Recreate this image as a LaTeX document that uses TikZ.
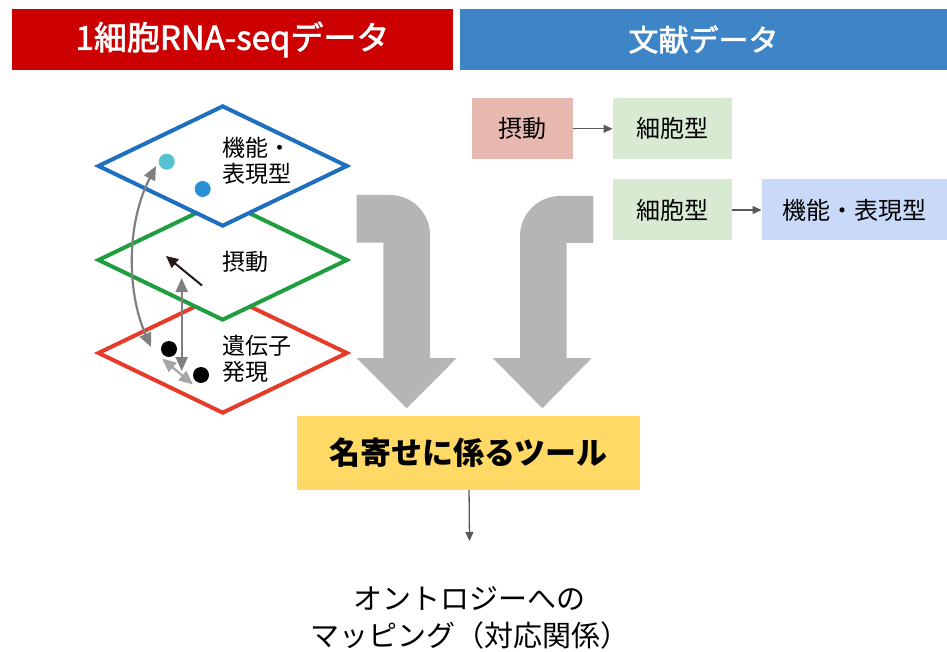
\documentclass[tikz,border=0pt]{standalone}
\usepackage{fontspec}
\setmainfont{Noto Sans CJK JP}
\newfontfamily\hdrfont[FakeBold=2]{Noto Sans CJK JP}
\usetikzlibrary{arrows.meta,shapes.geometric}
\definecolor{hdrred}{HTML}{CC0000}
\definecolor{hdrblue}{HTML}{3D85C6}
\definecolor{dblue}{HTML}{1E6FBF}
\definecolor{dgreen}{HTML}{1E9E3E}
\definecolor{dred}{HTML}{E63A2B}
\definecolor{dotcyan}{HTML}{56C2D0}
\definecolor{dotblue}{HTML}{2990D6}
\definecolor{boxpink}{HTML}{E6B8AF}
\definecolor{boxgreen}{HTML}{D9EAD3}
\definecolor{boxblue}{HTML}{C9DAF8}
\definecolor{boxyellow}{HTML}{FFD966}
\definecolor{arrgray}{HTML}{595959}
\definecolor{biggray}{HTML}{B5B5B5}
\definecolor{midgray}{HTML}{7F7F7F}
\definecolor{lightgray2}{HTML}{A6A6A6}
\definecolor{darkarrow}{HTML}{231815}
\begin{document}
\begin{tikzpicture}[x=1pt,y=-1pt,
  hdr/.style={inner sep=0, text=white, font=\hdrfont\fontsize{30}{34}\selectfont, minimum height=61},
  layer/.style={diamond, draw=#1, fill=white, line width=4, minimum width=250, minimum height=121, inner sep=0},
  dot/.style={circle, fill=#1, inner sep=0, minimum size=16},
  lbl/.style={inner sep=0, anchor=west, align=left, font=\fontsize{23}{26}\selectfont},
  litbox/.style={fill=#1, inner sep=0, minimum height=61, font=\fontsize{24}{28}\selectfont},
  thinarr/.style={draw=arrgray, line width=1.3, -{Triangle[length=9pt,width=8pt]}},
  grayarr/.style={draw=#1, line width=2.2, {Triangle[length=14pt,width=12pt]}-{Triangle[length=14pt,width=12pt]}},
  bigarrow/.style={fill=biggray}
]
\useasboundingbox (0,0) rectangle (947,652);

% headers
\node[hdr, fill=hdrred, minimum width=441, font=\hdrfont\fontsize{33}{36}\selectfont] (hdrL) at (232.5,39.5) {1細胞RNA-seqデータ};
\node[hdr, fill=hdrblue, minimum width=487] (hdrR) at (703.5,39.5) {文献データ};

% layers
\node[layer=dred] (lred) at (222.7,353) {};
\node[layer=dgreen] (lgreen) at (222.7,260) {};
\node[layer=dblue] (lblue) at (222.7,166) {};

\node[lbl] (tblue) at (222,161) {機能・\\表現型};
\node[lbl] (tgreen) at (222,262) {摂動};
\node[lbl] (tred) at (222,359) {遺伝子\\発現};

% dots
\node[dot=dotcyan] (c1) at (166.7,161.7) {};
\node[dot=dotblue] (c2) at (202.7,189) {};
\node[dot=black] (b1) at (169,349) {};
\node[dot=black] (b2) at (201,375) {};

% arrows inside layers
\coordinate (cvA) at (151,347);
\coordinate (cvB) at (156,166);
\draw[grayarr=midgray] (cvA) .. controls (126,290) and (127,222) .. (cvB);
\coordinate (vtA) at (181.7,278);
\coordinate (vtB) at (181.7,371);
\draw[grayarr=midgray] (vtA) -- (vtB);
\coordinate (smA) at (162,358.5);
\coordinate (smB) at (193,384.5);
\draw[grayarr=lightgray2] (smA) -- (smB);
\coordinate (bkA) at (202,285.5);
\coordinate (bkB) at (166,256);
\draw[darkarrow, line width=2, -{Triangle[length=12pt,width=11pt]}] (bkA) -- (bkB);

% big bent arrows
\fill[bigarrow] (356.7,195) -- (390,195) .. controls (412,195) and (430,213) .. (430,235)
  -- (430,358) -- (456.7,358) -- (406.7,408.3) -- (356.7,358) -- (383.3,358)
  -- (383.3,242.7) -- (356.7,242.7) -- cycle;
\fill[bigarrow] (593.3,196) -- (560,196) .. controls (538,196) and (520,214) .. (520,236)
  -- (520,358) -- (492.7,358) -- (542.3,408.3) -- (591.7,358) -- (566.7,358)
  -- (566.7,243) -- (593.3,243) -- cycle;

% literature boxes
\node[litbox=boxpink, minimum width=101] (pert) at (522.2,128.8) {摂動};
\node[litbox=boxgreen, minimum width=119] (ct1) at (672.2,128.8) {細胞型};
\node[litbox=boxgreen, minimum width=119] (ct2) at (672.2,210) {細胞型};
\node[litbox=boxblue, minimum width=185] (func) at (854.2,210) {機能・表現型};
\draw[thinarr] (pert) -- (ct1);
\draw[thinarr] (ct2) -- (func);

% tool box
\node[fill=boxyellow, inner sep=0, minimum width=343, minimum height=74, font=\bfseries\fontsize{31}{35}\selectfont] (tool) at (468.7,453) {名寄せに係るツール};
\node[inner sep=0, align=center, font=\fontsize{29}{37}\selectfont] (onto) at (469.5,618) {オントロジーへの\\マッピング（対応関係）};
\coordinate (ontoTop) at (469.5,541);
\draw[thinarr] (tool) -- (ontoTop);
\end{tikzpicture}
\end{document}
